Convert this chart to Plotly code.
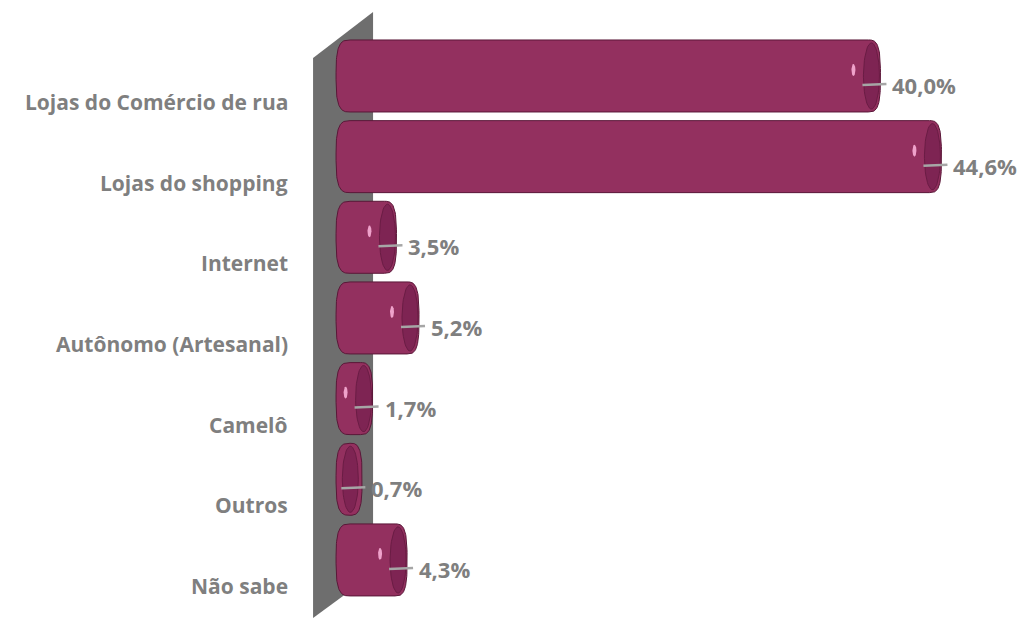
import numpy as np
import plotly.graph_objects as go

# Survey answers: where people buy
categories = [
    "Lojas do Comércio de rua",
    "Lojas do shopping",
    "Internet",
    "Autônomo (Artesanal)",
    "Camelô",
    "Outros",
    "Não sabe",
]
values = [40.0, 44.6, 3.5, 5.2, 1.7, 0.7, 4.3]
value_labels = ["40,0%", "44,6%", "3,5%", "5,2%", "1,7%", "0,7%", "4,3%"]

W, H = 1021, 618
TOP_MARGIN = 5
X_RANGE = [-26.4, 50.6]
Y_RANGE = [6.72, -0.88]  # reversed: first category on top

PX_X = W / (X_RANGE[1] - X_RANGE[0])                  # pixels per percent
PX_Y = (H - TOP_MARGIN) / (Y_RANGE[0] - Y_RANGE[1])   # pixels per category step


def dx(p):
    return p / PX_X


def dy(p):
    return p / PX_Y


def spow(v, e):
    return np.sign(v) * np.abs(v) ** e


BODY = "#93305F"
FACE = "#7E2453"
EDGE = "#5A1738"
GLINT = "#EFA2CB"
LEADER = "#A6A6A6"
TEXT = "#7F7F7F"
WALL = "#6E6E6E"
FONT = "Open Sans"

fig = go.Figure()

# cylinder geometry (screen-space sizes converted to data units)
aL, aR, aF, h = dx(14), dx(12), dx(8), dy(36)
x_start = dx(-14)
N_END = 3.2  # superellipse exponent for the rounded ends
ex = 2.0 / N_END

for i, v in enumerate(values):
    yc = i
    cL = x_start + aL
    cR = max(v - aR, cL)
    t1 = np.linspace(np.pi / 2, 3 * np.pi / 2, 60)
    t2 = np.linspace(-np.pi / 2, np.pi / 2, 60)
    xs = np.concatenate([cL + aL * spow(np.cos(t1), ex),
                         cR + aR * spow(np.cos(t2), ex)])
    ys = np.concatenate([yc - h * spow(np.sin(t1), ex),
                         yc - h * spow(np.sin(t2), ex)])
    xs = np.append(xs, xs[0])
    ys = np.append(ys, ys[0])
    # cylinder body
    fig.add_trace(go.Scatter(
        x=xs, y=ys, mode="lines", fill="toself", fillcolor=BODY,
        line=dict(color=EDGE, width=1), hoverinfo="skip", showlegend=False))
    # end face
    t = np.linspace(0, 2 * np.pi, 60)
    fc = max(v - aF - dx(1), cL)
    fh = h * 0.92
    fig.add_trace(go.Scatter(
        x=fc + aF * np.cos(t), y=yc + fh * np.sin(t), mode="lines",
        fill="toself", fillcolor=FACE, line=dict(color="#6A1C44", width=1),
        hoverinfo="skip", showlegend=False))
    # specular glint (only where the cylinder is long enough to show it)
    gx = v - dx(27)
    gy = yc - dy(6)
    if gx > x_start + dx(8):
        fig.add_trace(go.Scatter(
            x=gx + dx(2) * np.cos(t), y=gy + dy(6) * np.sin(t), mode="lines",
            fill="toself", fillcolor=GLINT, line=dict(color=GLINT, width=0),
            hoverinfo="skip", showlegend=False))
    # leader line to the value label
    fig.add_trace(go.Scatter(
        x=[v - dx(18), v + dx(6)], y=[yc + dy(9), yc + dy(8)], mode="lines",
        line=dict(color=LEADER, width=2.5), hoverinfo="skip", showlegend=False))
    # value label
    fig.add_annotation(
        x=v + dx(10), y=yc, yshift=-9, text=value_labels[i], showarrow=False,
        xanchor="left", yanchor="middle",
        font=dict(family=FONT, size=22, color=TEXT, weight="bold"))
    # category label
    fig.add_annotation(
        x=dx(-60), y=yc, yshift=-26, text=categories[i], showarrow=False,
        xanchor="right", yanchor="middle",
        font=dict(family=FONT, size=21, color=TEXT, weight="bold"))

# back wall of the 3-D plot area
wall = [(dx(-37), dy(58 - 76)), (dx(23), dy(12 - 76)),
        (dx(23), dy(574 - 76)), (dx(-37), dy(618 - 76))]
path = "M " + " L ".join(f"{x:.4f},{y:.4f}" for x, y in wall) + " Z"
fig.add_shape(type="path", path=path, xref="x", yref="y",
              fillcolor=WALL, line=dict(width=0), layer="below")

fig.update_layout(
    width=W, height=H,
    margin=dict(l=0, r=0, t=TOP_MARGIN, b=0),
    paper_bgcolor="white", plot_bgcolor="white",
    xaxis=dict(range=X_RANGE, visible=False, fixedrange=True),
    yaxis=dict(range=Y_RANGE, visible=False, fixedrange=True),
    showlegend=False,
)

fig.write_html("out.html")
